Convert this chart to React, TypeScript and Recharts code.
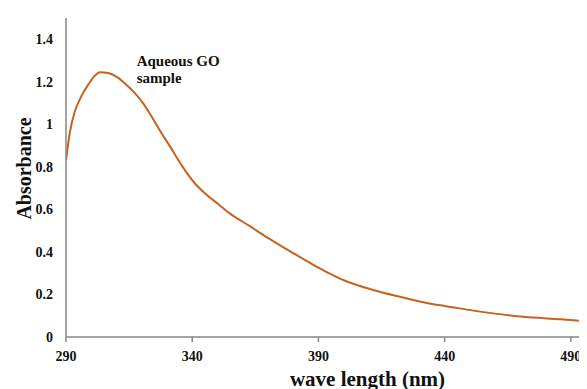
import React from "react";
import { LineChart, Line, XAxis, YAxis, ReferenceDot } from "recharts";

const wavelengths = [
  290, 291.5, 293.5, 296, 299, 301.5, 303.5, 307, 310.5, 314, 317, 320.5, 323.5,
  327, 331, 336.5, 340.5, 345, 350, 355, 363, 369.5, 378.5, 386.5, 390, 401,
  412, 422, 435.5, 440, 451.5, 470, 490, 496,
];
const absorbance = [
  0.83, 0.96, 1.06, 1.13, 1.19, 1.23, 1.245, 1.24, 1.22, 1.185, 1.15, 1.1, 1.045,
  0.975, 0.9, 0.795, 0.73, 0.676, 0.628, 0.58, 0.52, 0.47, 0.405, 0.35, 0.326,
  0.262, 0.22, 0.19, 0.154, 0.146, 0.124, 0.096, 0.08, 0.073,
];
const xTicks = [290, 340, 390, 440, 490];
const yTicks = [0, 0.2, 0.4, 0.6, 0.8, 1, 1.2, 1.4];
const xTitle = "wave length (nm)";
const yTitle = "Absorbance";
const noteLines = ["Aqueous GO", "sample"];
const notePos = { x: 318, y: 1.272 };

const data = wavelengths.map((nm, i) => ({ nm, abs: absorbance[i] }));

const FONT = '"Liberation Serif", "Times New Roman", serif';
const AXIS = "#868686";
const LINE = "#C8621E";

const XTitle = (props: any) => {
  const vb = props.viewBox;
  return (
    <text
      x={vb.x + vb.width / 2 + 41}
      y={vb.y + 49}
      textAnchor="middle"
      style={{ fontFamily: FONT, fontWeight: "bold", fontSize: 21 }}
      fill="#111"
    >
      {xTitle}
    </text>
  );
};

const YTitle = (props: any) => {
  const vb = props.viewBox;
  const cx = 16;
  const cy = vb.y + vb.height / 2 - 9;
  return (
    <text
      x={cx}
      y={cy}
      transform={`rotate(-90, ${cx}, ${cy})`}
      textAnchor="middle"
      dominantBaseline="central"
      style={{ fontFamily: FONT, fontWeight: "bold", fontSize: 20 }}
      fill="#111"
    >
      {yTitle}
    </text>
  );
};

const Note = (props: any) => {
  const vb = props.viewBox;
  const x = vb.x + (vb.width || 0) / 2;
  const y = vb.y + (vb.height || 0) / 2;
  return (
    <g>
      {noteLines.map((t, i) => (
        <text
          key={t}
          x={x}
          y={y + i * 16.5}
          style={{ fontFamily: FONT, fontWeight: "bold", fontSize: 15 }}
          fill="#111"
        >
          {t}
        </text>
      ))}
    </g>
  );
};

const tickStyle = { fontFamily: FONT, fontWeight: "bold", fontSize: 14 };

export default function App() {
  return (
    <div style={{ fontFamily: FONT, fontWeight: "bold", width: 579, height: 381 }}>
      <LineChart
        width={579}
        height={381}
        data={data}
        margin={{ top: 10, right: 0, bottom: 0, left: 0 }}
      >
        <XAxis
          dataKey="nm"
          type="number"
          domain={[290, 496.4]}
          ticks={xTicks}
          allowDataOverflow
          height={52}
          axisLine={{ stroke: AXIS, strokeWidth: 1.5 }}
          tickLine={{ stroke: AXIS, strokeWidth: 1.5 }}
          tickSize={5}
          tickMargin={9}
          tick={{ style: tickStyle, fill: "#111" }}
          label={<XTitle />}
        />
        <YAxis
          type="number"
          domain={[0, 1.5]}
          ticks={yTicks}
          width={58}
          axisLine={{ stroke: AXIS, strokeWidth: 1.5 }}
          tickLine={false}
          tickSize={0}
          tickMargin={13}
          tick={{ style: tickStyle, fill: "#111" }}
          label={<YTitle />}
        />
        <ReferenceDot
          x={notePos.x}
          y={notePos.y}
          r={0}
          fill="none"
          stroke="none"
          label={<Note />}
        />
        <Line
          type="monotone"
          dataKey="abs"
          stroke={LINE}
          strokeWidth={2}
          dot={false}
          isAnimationActive={false}
        />
      </LineChart>
    </div>
  );
}
